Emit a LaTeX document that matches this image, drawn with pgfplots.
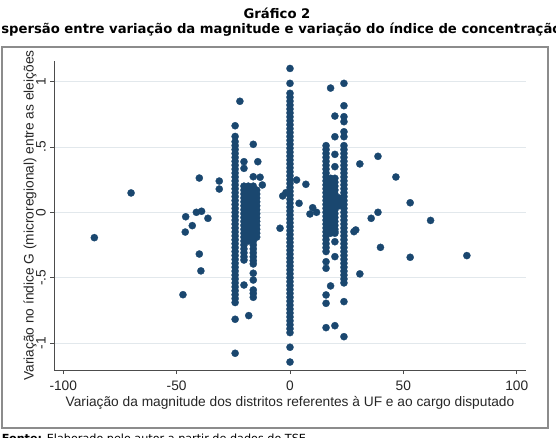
\documentclass[border=0pt]{standalone}
\usepackage{fontspec}
\usepackage{pgfplots}
\pgfplotsset{compat=1.18}
\setmainfont{Liberation Sans}
\newfontfamily\verd{DejaVu Sans}
\definecolor{stnavy}{RGB}{26,71,111}
\definecolor{stgrid}{RGB}{226,232,236}
\pgfplotsset{dots/.style={only marks, mark=*, mark size=2.7pt, color=stnavy,
  mark options={fill=stnavy, draw=stnavy, line width=0.2pt}}}

\begin{document}
\begin{tikzpicture}
\useasboundingbox (0,0) rectangle (417pt,327.75pt);
\clip (0,0) rectangle (417pt,327.75pt);
% outer frame
\draw[black!45, line width=1pt] (1.5pt,6.75pt) rectangle (411pt,292.5pt);
% titles
\node[font=\verd\bfseries\fontsize{9.9}{12}\selectfont, anchor=base, inner sep=0pt]
  at (207.75pt,313.9pt) {Gráfico 2};
\node[font=\verd\bfseries\fontsize{9.9}{12}\selectfont, anchor=base east, inner sep=0pt]
  at (0.75pt,302.6pt) {Di};
\node[font=\verd\bfseries\fontsize{9.9}{12}\selectfont, anchor=base west, inner sep=0pt]
  at (0.75pt,302.6pt) {spersão entre variação da magnitude e variação do índice de concentração};
% source note
\node[font=\verd\fontsize{8.4}{10}\selectfont, anchor=base west, inner sep=0pt]
  at (1.2pt,-4.1pt) {\textbf{Fonte:} Elaborado pelo autor a partir de dados do TSE.};

\begin{axis}[
  at={(40.65pt,50.25pt)}, anchor=south west,
  scale only axis, width=353.7pt, height=231.75pt,
  xmin=-104, xmax=104, ymin=-1.206, ymax=1.157,
  axis x line*=bottom, axis y line*=left,
  axis line style={black!70, line width=0.6pt},
  tick align=outside, major tick length=3pt,
  tick style={black!70, line width=0.6pt},
  xtick={-100,-50,0,50,100}, xticklabels={-100,-50,0,50,100},
  ytick={-1,-0.5,0,0.5,1}, yticklabels={-1,-.5,0,.5,1},
  ymajorgrids, grid style={stgrid, line width=0.6pt},
  tick label style={font=\fontsize{10.3}{12}\selectfont, black!85},
  xticklabel style={anchor=north, inner sep=0pt},
  yticklabel style={rotate=90, anchor=south, inner sep=0pt},
  xticklabel shift=5.25pt, yticklabel shift=3.2pt,
  label style={font=\fontsize{10.3}{12}\selectfont, black!85},
  xlabel={Variação da magnitude dos distritos referentes à UF e ao cargo disputado},
  xlabel style={at={([yshift=-27.4pt]axis description cs:0.5,0)}, anchor=base, inner sep=0pt},
  ylabel={Variação no índice G (microregional) entre as eleições},
  ylabel style={at={([xshift=-15.5pt]axis description cs:0,0.5)}, rotate=0, anchor=base, inner sep=0pt},
  clip=false,
]
% column at zero change in magnitude
\addplot[dots] coordinates {
(0,-0.92)(0,-0.89)(0,-0.86)(0,-0.83)(0,-0.80)(0,-0.77)(0,-0.74)(0,-0.71)(0,-0.68)(0,-0.65)
(0,-0.62)(0,-0.59)(0,-0.56)(0,-0.53)(0,-0.50)(0,-0.47)(0,-0.44)(0,-0.41)(0,-0.38)(0,-0.35)
(0,-0.32)(0,-0.29)(0,-0.26)(0,-0.23)(0,-0.20)(0,-0.17)(0,-0.14)(0,-0.11)(0,-0.08)(0,-0.05)
(0,-0.02)(0,0.01)(0,0.04)(0,0.07)(0,0.10)(0,0.13)(0,0.16)(0,0.19)(0,0.22)(0,0.25)
(0,0.28)(0,0.31)(0,0.34)(0,0.37)(0,0.40)(0,0.43)(0,0.46)(0,0.49)(0,0.52)(0,0.55)
(0,0.58)(0,0.61)(0,0.64)(0,0.67)(0,0.70)(0,0.73)(0,0.76)(0,0.79)(0,0.82)(0,0.85)
(0,0.88)(0,0.91)(0,0.986)(0,1.10)(0,-1.032)(0,-1.145)
};
% column near -24
\addplot[dots] coordinates {
(-24.2,-0.69)(-24.2,-0.66)(-24.2,-0.63)(-24.2,-0.60)(-24.2,-0.57)(-24.2,-0.54)(-24.2,-0.51)
(-24.2,-0.48)(-24.2,-0.45)(-24.2,-0.42)(-24.2,-0.39)(-24.2,-0.36)(-24.2,-0.33)(-24.2,-0.30)
(-24.2,-0.27)(-24.2,-0.24)(-24.2,-0.21)(-24.2,-0.18)(-24.2,-0.15)(-24.2,-0.12)(-24.2,-0.09)
(-24.2,-0.06)(-24.2,-0.03)(-24.2,0.00)(-24.2,0.03)(-24.2,0.06)(-24.2,0.09)(-24.2,0.12)
(-24.2,0.15)(-24.2,0.18)(-24.2,0.21)(-24.2,0.24)(-24.2,0.27)(-24.2,0.30)(-24.2,0.33)
(-24.2,0.36)(-24.2,0.39)(-24.2,0.42)(-24.2,0.45)(-24.2,0.48)(-24.2,0.51)(-24.2,0.54)
(-24.2,0.58)(-24.2,0.662)(-24.2,-0.818)(-24.2,-1.078)(-22.1,0.849)
};
% cluster between -21 and -14
\addplot[dots] coordinates {
(-20.3,-0.22)(-20.3,-0.19)(-20.3,-0.16)(-20.3,-0.13)(-20.3,-0.10)(-20.3,-0.07)(-20.3,-0.04)
(-20.3,-0.01)(-20.3,0.02)(-20.3,0.05)(-20.3,0.08)(-20.3,0.11)(-20.3,0.14)(-20.3,0.17)(-20.3,0.20)
(-18.4,-0.22)(-18.4,-0.19)(-18.4,-0.16)(-18.4,-0.13)(-18.4,-0.10)(-18.4,-0.07)(-18.4,-0.04)
(-18.4,-0.01)(-18.4,0.02)(-18.4,0.05)(-18.4,0.08)(-18.4,0.11)(-18.4,0.14)(-18.4,0.17)(-18.4,0.20)
(-16.2,-0.22)(-16.2,-0.19)(-16.2,-0.16)(-16.2,-0.13)(-16.2,-0.10)(-16.2,-0.07)(-16.2,-0.04)
(-16.2,-0.01)(-16.2,0.02)(-16.2,0.05)(-16.2,0.08)(-16.2,0.11)(-16.2,0.14)(-16.2,0.17)(-16.2,0.20)
(-14.7,-0.19)(-14.7,-0.16)(-14.7,-0.13)(-14.7,-0.10)(-14.7,-0.07)(-14.7,-0.04)
(-14.7,-0.01)(-14.7,0.02)(-14.7,0.05)(-14.7,0.08)(-14.7,0.11)(-14.7,0.14)(-14.7,0.17)
(-20.3,-0.25)(-20.3,-0.28)(-20.3,-0.31)(-20.3,-0.34)(-20.3,-0.365)(-20.3,-0.556)
(-20.3,0.336)(-20.3,0.387)
(-16.2,-0.25)(-16.2,-0.28)(-16.2,-0.31)(-16.2,-0.34)(-16.2,-0.37)(-16.2,-0.395)
(-16.2,-0.466)(-16.2,-0.518)(-16.2,-0.594)(-16.2,-0.62)(-16.2,-0.65)(-16.2,0.272)(-16.2,0.52)
(-14.2,0.387)(-13.2,0.268)(-12.2,0.209)(-18.2,-0.79)
};
% column near 16
\addplot[dots] coordinates {
(15.9,-0.30)(15.9,-0.27)(15.9,-0.24)(15.9,-0.21)(15.9,-0.18)(15.9,-0.15)(15.9,-0.12)
(15.9,-0.09)(15.9,-0.06)(15.9,-0.03)(15.9,0.00)(15.9,0.03)(15.9,0.06)(15.9,0.09)
(15.9,0.12)(15.9,0.15)(15.9,0.18)(15.9,0.21)(15.9,0.24)(15.9,0.27)(15.9,0.30)
(15.9,0.33)(15.9,0.36)(15.9,0.39)(15.9,0.42)(15.9,0.45)(15.9,0.48)(15.9,0.51)
(15.9,-0.378)(15.9,-0.428)(15.9,-0.632)(15.9,-0.696)(15.9,-0.882)
};
% cluster between 16 and 22
\addplot[dots] coordinates {
(17.9,-0.16)(17.9,-0.13)(17.9,-0.10)(17.9,-0.07)(17.9,-0.04)(17.9,-0.01)(17.9,0.02)
(17.9,0.05)(17.9,0.08)(17.9,0.11)(17.9,0.14)(17.9,0.17)(17.9,0.20)(17.9,0.23)(17.9,0.26)
(19.8,-0.16)(19.8,-0.13)(19.8,-0.10)(19.8,-0.07)(19.8,-0.04)(19.8,-0.01)(19.8,0.02)
(19.8,0.05)(19.8,0.08)(19.8,0.11)(19.8,0.14)(19.8,0.17)(19.8,0.20)(19.8,0.23)(19.8,0.26)
(21.6,0.05)(21.6,0.08)(21.6,0.11)
(17.9,0.95)(17.9,-0.563)
(19.8,0.736)(19.8,0.578)(19.8,0.443)(19.8,0.349)(19.8,-0.339)(19.8,-0.867)
(19.8,-0.148)(19.8,-0.225)
};
% column near 24
\addplot[dots] coordinates {
(23.8,-0.54)(23.8,-0.51)(23.8,-0.48)(23.8,-0.45)(23.8,-0.42)(23.8,-0.39)(23.8,-0.36)
(23.8,-0.33)(23.8,-0.30)(23.8,-0.27)(23.8,-0.24)(23.8,-0.21)(23.8,-0.18)(23.8,-0.15)
(23.8,-0.12)(23.8,-0.09)(23.8,-0.06)(23.8,-0.03)(23.8,0.00)(23.8,0.03)(23.8,0.06)
(23.8,0.09)(23.8,0.12)(23.8,0.15)(23.8,0.18)(23.8,0.21)(23.8,0.24)(23.8,0.27)
(23.8,0.30)(23.8,0.33)(23.8,0.36)(23.8,0.39)(23.8,0.42)(23.8,0.45)(23.8,0.48)(23.8,0.51)
(23.8,0.578)(23.8,0.616)(23.8,0.693)(23.8,0.731)(23.8,0.815)(23.8,0.986)
(23.8,-0.683)(23.8,-0.951)
};
% scattered districts
\addplot[dots] coordinates {
(-86.3,-0.194)(-70.1,0.148)(-40.0,0.262)(-31.2,0.239)(-31.2,0.178)
(-46.0,-0.034)(-41.3,0.0)(-39.0,0.008)(-36.2,-0.046)(-43.1,-0.102)(-46.2,-0.151)
(-40.0,-0.319)(-39.3,-0.448)(-47.2,-0.630)
(-4.4,-0.122)(-3.2,0.125)(-1.8,0.150)(2.9,0.247)(7.0,0.214)(4.0,0.069)
(8.8,-0.013)(10.0,0.035)(11.7,0.0)
(28.2,-0.148)(29.0,-0.135)(30.8,0.370)(30.8,-0.471)(38.8,0.428)(35.8,-0.046)
(38.8,0.0)(39.9,-0.268)(46.7,0.270)(53.0,0.073)(53.0,-0.344)(62.0,-0.062)(78.0,-0.331)
};
\end{axis}
\end{tikzpicture}
\end{document}
